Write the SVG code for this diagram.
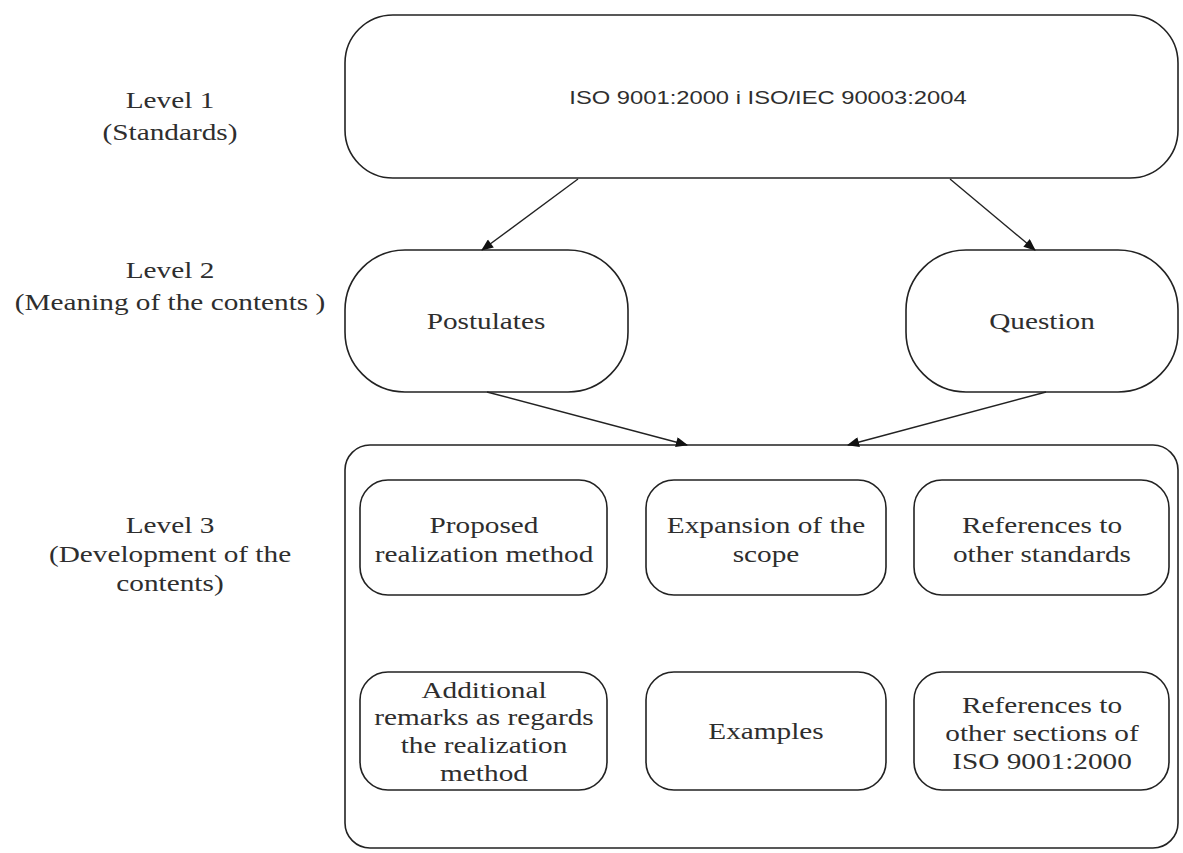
<svg xmlns="http://www.w3.org/2000/svg" width="1183" height="853" viewBox="0 0 1183 853">
  <style>
    .box { fill: #ffffff; stroke: #222222; stroke-width: 1.6; }
    .lbl { font-family: "Liberation Serif", "Times New Roman", serif; font-size: 24px; fill: #2e2e2e; text-anchor: middle; }
    .iso { font-family: "Liberation Sans", Arial, sans-serif; font-size: 19px; fill: #2e2e2e; text-anchor: middle; }
    .edge { stroke: #222222; stroke-width: 1.4; fill: none; marker-end: url(#arrow); }
  </style>
  <defs>
    <marker id="arrow" viewBox="0 0 12 10" refX="11" refY="5" markerWidth="13" markerHeight="10" markerUnits="userSpaceOnUse" orient="auto">
      <path d="M0,0 L12,5 L0,10 Z" fill="#111111"/>
    </marker>
  </defs>
  <rect width="1183" height="853" fill="#ffffff"/>

  <!-- level captions (text is set slightly wide) -->
  <g id="level1-caption" transform="translate(170,0) scale(1.22,1)">
    <text class="lbl" x="0" y="108">Level  1</text>
    <text class="lbl" x="0" y="140">(Standards)</text>
  </g>
  <g id="level2-caption" transform="translate(170,0) scale(1.22,1)">
    <text class="lbl" x="0" y="278">Level  2</text>
    <text class="lbl" x="0" y="310">(Meaning of the contents )</text>
  </g>
  <g id="level3-caption" transform="translate(170,0) scale(1.22,1)">
    <text class="lbl" x="0" y="533">Level  3</text>
    <text class="lbl" x="0" y="562">(Development of the</text>
    <text class="lbl" x="0" y="591">contents)</text>
  </g>

  <!-- level 1 -->
  <g id="standards">
    <rect class="box" x="345" y="15" width="833" height="163" rx="48"/>
    <text class="iso" transform="translate(768,0) scale(1.25,1)" x="0" y="104">ISO 9001:2000 i ISO/IEC 90003:2004</text>
  </g>

  <!-- level 2 -->
  <g id="postulates">
    <rect class="box" x="345" y="250" width="283" height="142" rx="60"/>
    <text class="lbl" transform="translate(486,0) scale(1.22,1)" x="0" y="329">Postulates</text>
  </g>
  <g id="question">
    <rect class="box" x="906" y="250" width="272" height="142" rx="60"/>
    <text class="lbl" transform="translate(1042,0) scale(1.22,1)" x="0" y="329">Question</text>
  </g>

  <!-- level 3 container and its parts -->
  <g id="development">
    <rect class="box" x="345" y="445" width="833" height="403" rx="25"/>
  </g>
  <g id="proposed-method">
    <rect class="box" x="360" y="480" width="247" height="115" rx="28"/>
    <g transform="translate(484,0) scale(1.22,1)">
      <text class="lbl" x="0" y="533">Proposed</text>
      <text class="lbl" x="0" y="562">realization method</text>
    </g>
  </g>
  <g id="scope-expansion">
    <rect class="box" x="646" y="480" width="240" height="115" rx="28"/>
    <g transform="translate(766,0) scale(1.22,1)">
      <text class="lbl" x="0" y="533">Expansion of the</text>
      <text class="lbl" x="0" y="562">scope</text>
    </g>
  </g>
  <g id="other-standards">
    <rect class="box" x="914" y="480" width="255" height="115" rx="28"/>
    <g transform="translate(1042,0) scale(1.22,1)">
      <text class="lbl" x="0" y="533">References to</text>
      <text class="lbl" x="0" y="562">other standards</text>
    </g>
  </g>
  <g id="additional-remarks">
    <rect class="box" x="360" y="672" width="247" height="118" rx="28"/>
    <g transform="translate(484,0) scale(1.22,1)">
      <text class="lbl" x="0" y="698">Additional</text>
      <text class="lbl" x="0" y="725">remarks as regards</text>
      <text class="lbl" x="0" y="753">the realization</text>
      <text class="lbl" x="0" y="781">method</text>
    </g>
  </g>
  <g id="examples">
    <rect class="box" x="646" y="672" width="240" height="118" rx="28"/>
    <text class="lbl" transform="translate(766,0) scale(1.22,1)" x="0" y="739">Examples</text>
  </g>
  <g id="other-sections">
    <rect class="box" x="914" y="672" width="255" height="118" rx="28"/>
    <g transform="translate(1042,0) scale(1.22,1)">
      <text class="lbl" x="0" y="713">References to</text>
      <text class="lbl" x="0" y="741">other sections of</text>
      <text class="lbl" x="0" y="769">ISO 9001:2000</text>
    </g>
  </g>

  <!-- connectors -->
  <g id="connectors">
    <line class="edge" x1="578" y1="179" x2="482" y2="250"/>
    <line class="edge" x1="950" y1="179" x2="1035" y2="250"/>
    <line class="edge" x1="487" y1="392" x2="687" y2="445"/>
    <line class="edge" x1="1046" y1="392" x2="848" y2="445"/>
  </g>
</svg>
